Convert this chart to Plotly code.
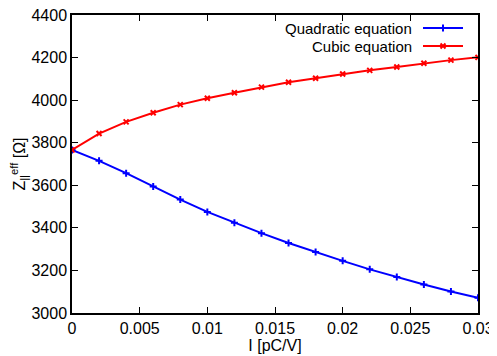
import plotly.graph_objects as go

I_vals = [0.000, 0.002, 0.004, 0.006, 0.008, 0.010, 0.012, 0.014, 0.016,
          0.018, 0.020, 0.022, 0.024, 0.026, 0.028, 0.030]
quadratic = [3766, 3715, 3657, 3594, 3533, 3475, 3424, 3375, 3329,
             3286, 3245, 3205, 3169, 3134, 3101, 3072]
cubic = [3766, 3843, 3898, 3941, 3979, 4009, 4035, 4061, 4084,
         4103, 4123, 4140, 4156, 4173, 4188, 4201]
x_ticks = [0, 0.005, 0.01, 0.015, 0.02, 0.025, 0.03]
x_ticklabels = ["0", "0.005", "0.01", "0.015", "0.02", "0.025", "0.03"]
y_ticks = [3000, 3200, 3400, 3600, 3800, 4000, 4200, 4400]
series_names = ["Quadratic equation", "Cubic equation"]

FONT = "Liberation Sans, Arial, sans-serif"
OFF = 8  # default page body margin
W, H = 497 - OFF, 356 - OFF
# desired plot area in window pixels: x 72..478, y 15..313
ml, mr, mt, mb = 72 - OFF, 19, 15 - OFF, 43

fig = go.Figure()
fig.add_trace(go.Scatter(x=I_vals, y=quadratic, mode="lines+markers", name=series_names[0],
                         line=dict(color="#0000ff", width=2),
                         marker=dict(symbol="cross-thin", size=5, line=dict(color="#0000ff", width=2))))
fig.add_trace(go.Scatter(x=I_vals, y=cubic, mode="lines+markers", name=series_names[1],
                         line=dict(color="#ff0000", width=2),
                         marker=dict(symbol="x-thin", size=5, line=dict(color="#ff0000", width=2))))

# gnuplot-style legend: text right-aligned, sample to its right (window pixel coords)
pw = W - ml - mr
ph = H - mt - mb
def px(xp): return (xp - OFF - ml) / pw
def py(yp): return 1 - (yp - OFF - mt) / ph

legend_rows = [(series_names[0], "#0000ff", "cross-thin", 5, 28),
               (series_names[1], "#ff0000", "x-thin", 5, 46)]
annotations = []
shapes = []
for name, col, sym, sz, yp in legend_rows:
    annotations.append(dict(x=px(414), y=py(yp), xref="paper", yref="paper", text=name,
                            showarrow=False, xanchor="right", yanchor="middle",
                            font=dict(family=FONT, size=15, color="#000000")))
    shapes.append(dict(type="line", xref="paper", yref="paper", x0=px(423), x1=px(463),
                       y0=py(yp), y1=py(yp), line=dict(color=col, width=2)))
    fig.add_trace(go.Scatter(x=[px(443)], y=[py(yp)], xaxis="x2", yaxis="y2", mode="markers",
                             showlegend=False, hoverinfo="skip",
                             marker=dict(symbol=sym, size=sz, line=dict(color=col, width=2))))

fig.update_layout(
    width=W, height=H,
    margin=dict(l=ml, r=mr, t=mt, b=mb),
    paper_bgcolor="white", plot_bgcolor="white",
    showlegend=False,
    font=dict(family=FONT, size=16, color="#000000"),
    xaxis=dict(range=[0, 0.03], tickvals=x_ticks, ticktext=x_ticklabels,
               ticks="inside", ticklen=6, tickwidth=1, tickcolor="#000",
               showline=True, linecolor="#000", linewidth=1.5, mirror="ticks",
               showgrid=False, zeroline=False, automargin=False,
               ticklabeloverflow="allow",
               title=dict(text="I [pC/V]", standoff=2, font=dict(size=16))),
    yaxis=dict(range=[3000, 4400], tickvals=y_ticks,
               ticks="inside", ticklen=6, tickwidth=1, tickcolor="#000",
               showline=True, linecolor="#000", linewidth=1.5, mirror="ticks",
               showgrid=False, zeroline=False, automargin=False,
               ticklabeloverflow="allow",
               title=dict(text="Z<sub>||</sub><sup>eff</sup> [Ω]", standoff=2, font=dict(size=16))),
    xaxis2=dict(range=[0, 1], overlaying="x", visible=False, automargin=False),
    yaxis2=dict(range=[0, 1], overlaying="y", visible=False, automargin=False),
    annotations=annotations, shapes=shapes,
)

fig.write_html("out.html")
